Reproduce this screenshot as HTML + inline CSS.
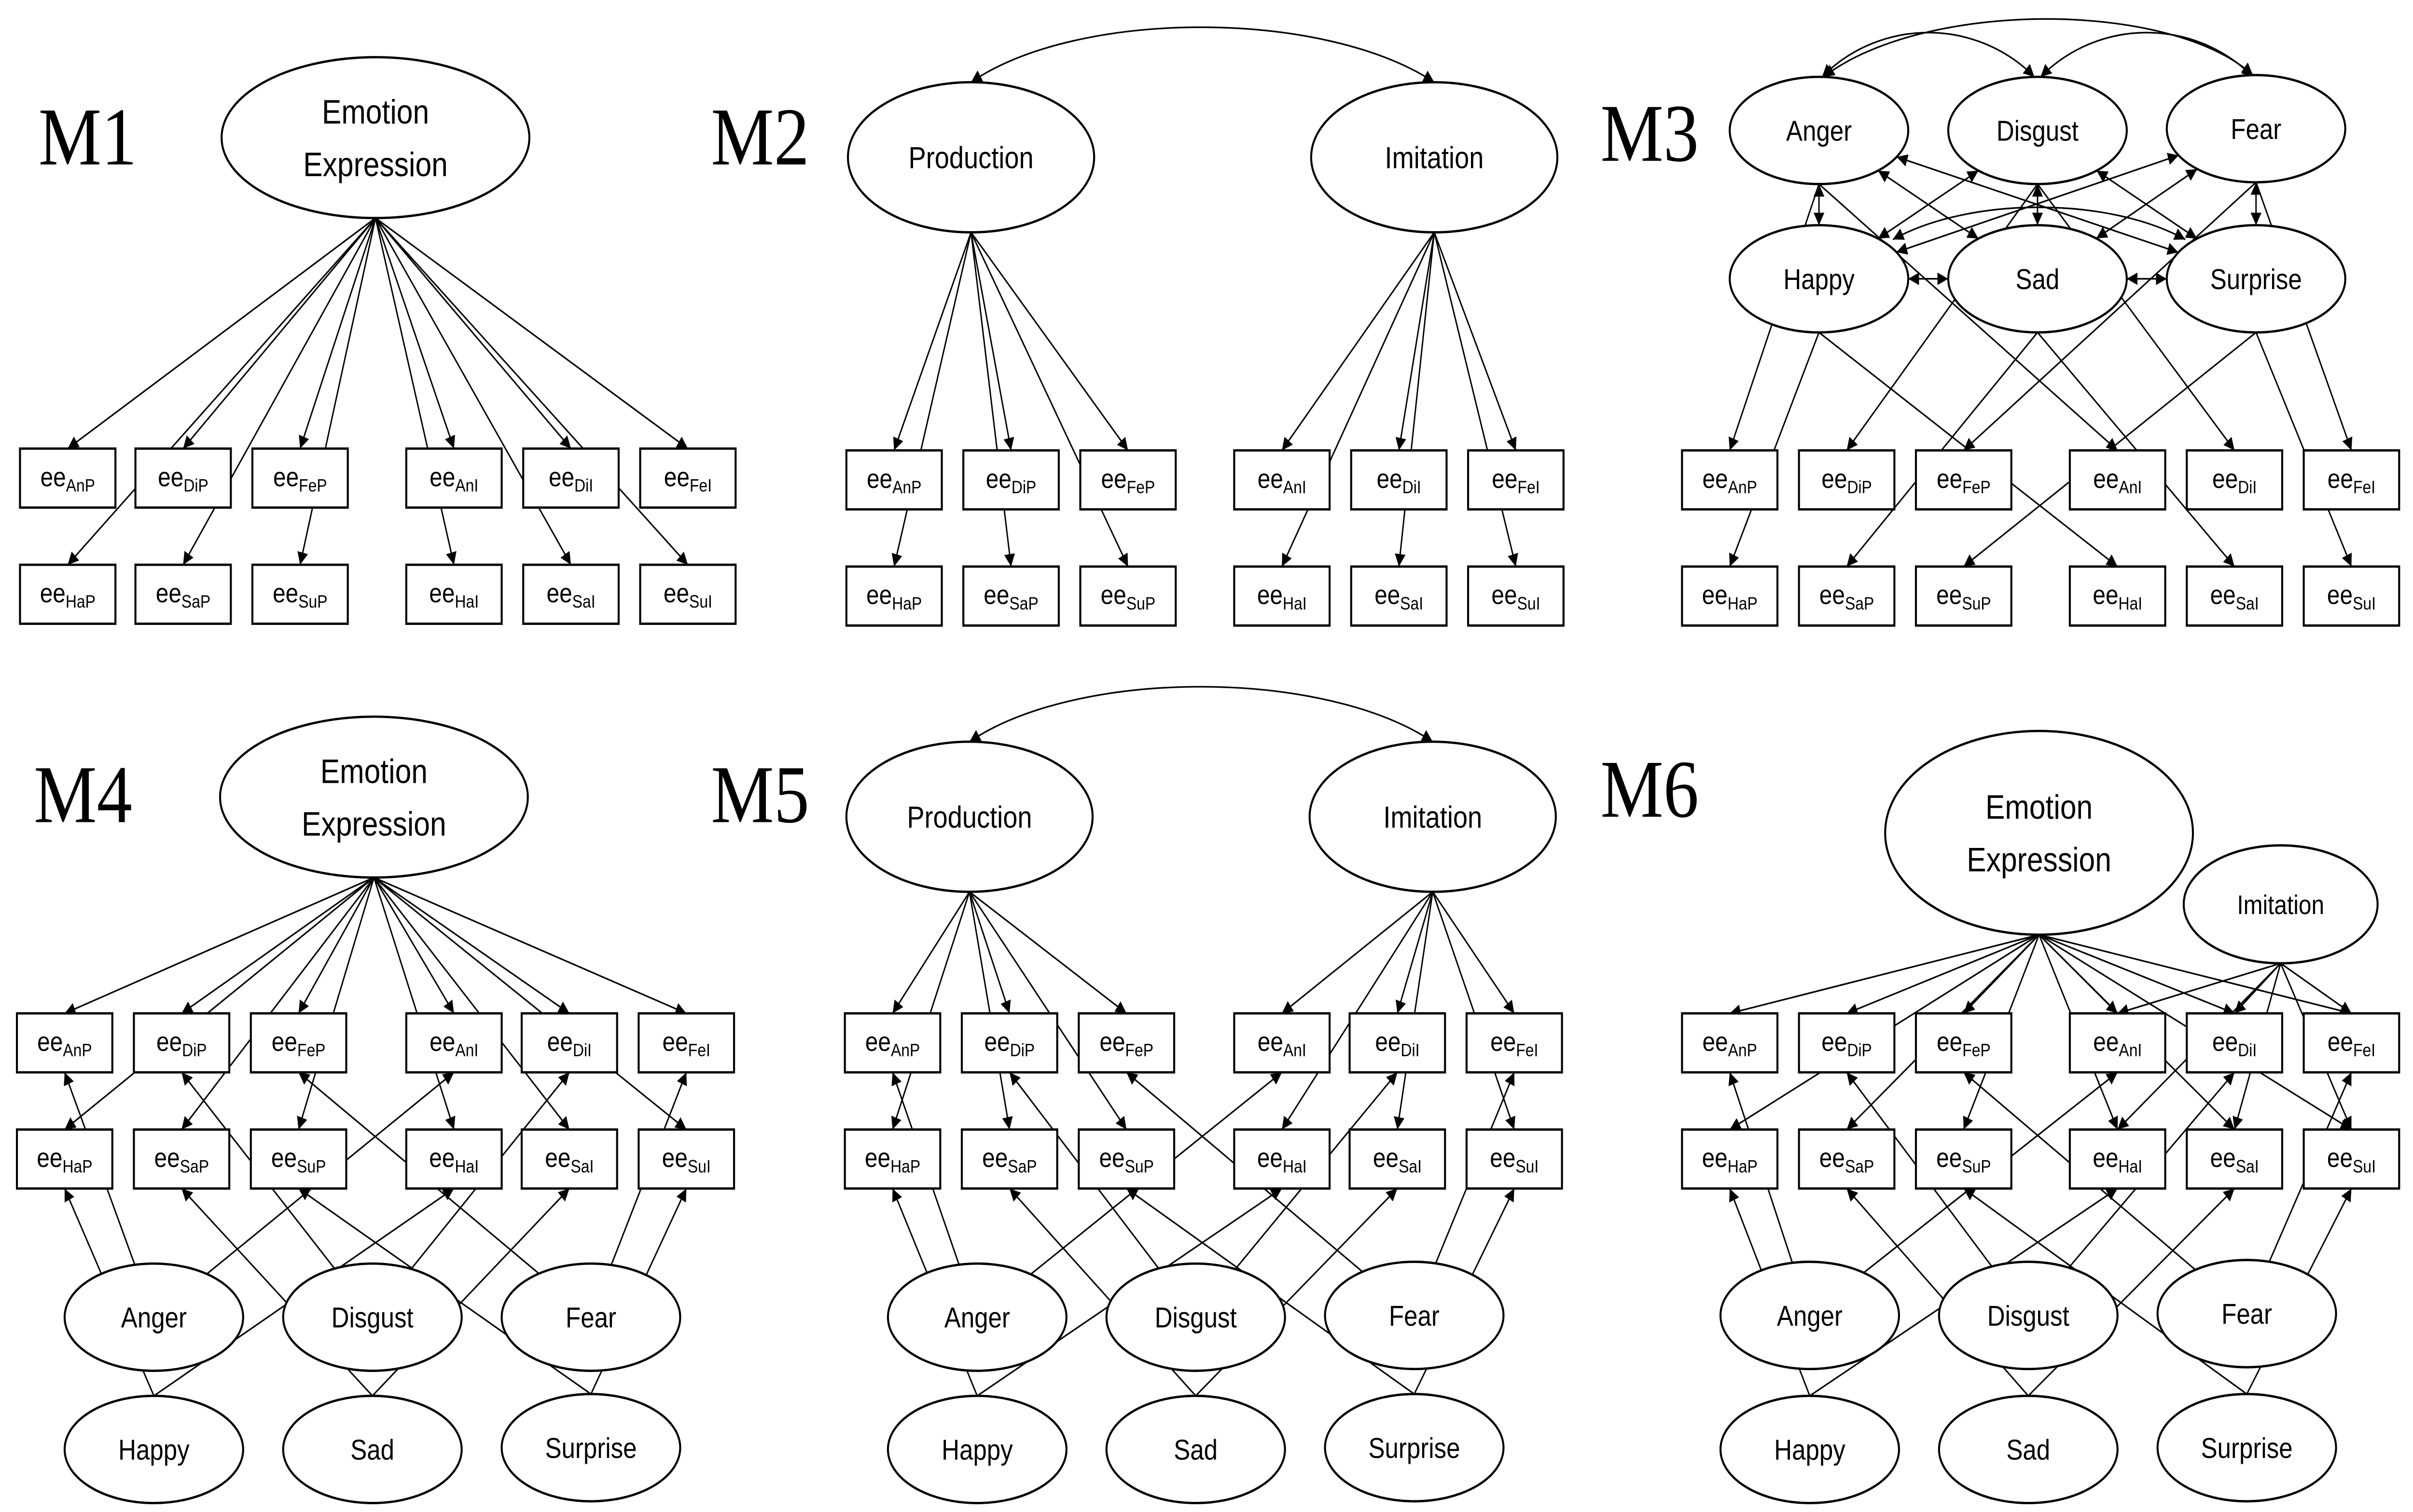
<!DOCTYPE html>
<html><head><meta charset="utf-8"><style>
html,body{margin:0;padding:0;background:#fff;overflow:hidden;width:100%;height:100%;}
svg{display:block;position:absolute;left:0;top:0;width:100vw;height:100vh;}
</style></head><body>
<svg id="s" viewBox="0 0 1568 846" preserveAspectRatio="none" xmlns="http://www.w3.org/2000/svg"></svg>
<script>
const S=document.getElementById('s');
let h='<defs><marker id="a" viewBox="0 0 10 10" refX="10" refY="5" markerWidth="7" markerHeight="7" orient="auto-start-reverse" markerUnits="userSpaceOnUse"><path d="M0,0 L10,5 L0,10 z" fill="#000"/></marker></defs>';
h+='<rect width="1568" height="846" fill="#fff"/>';
const F='font-family="Liberation Sans, sans-serif"';
function edge(e,tx,ty){const dx=tx-e.cx,dy=ty-e.cy;const t=1/Math.sqrt((dx*dx)/(e.rx*e.rx)+(dy*dy)/(e.ry*e.ry));return [e.cx+dx*t,e.cy+dy*t];}
function ln(x1,y1,x2,y2,both){h+=`<line x1="${x1.toFixed(1)}" y1="${y1.toFixed(1)}" x2="${x2.toFixed(1)}" y2="${y2.toFixed(1)}" stroke="#000" stroke-width="0.9" marker-end="url(#a)"${both?' marker-start="url(#a)"':''}/>`;}
function ell(cx,cy,rx,ry,lines,fs){h+=`<ellipse cx="${cx}" cy="${cy}" rx="${rx}" ry="${ry}" fill="#fff" stroke="#000" stroke-width="1.3"/>`;
 const n=lines.length;lines.forEach((t,i)=>{h+=`<text x="${cx}" y="${cy+(i-(n-1)/2)*fs*1.55+fs*0.36}" ${F} font-size="${fs}" text-anchor="middle">${t}</text>`;});return {cx,cy,rx,ry};}
function box(x,y,sub){h+=`<rect x="${x}" y="${y}" width="62" height="33" fill="#fff" stroke="#000" stroke-width="1.3"/><text x="${x+31}" y="${y+21}" ${F} font-size="15" text-anchor="middle">ee<tspan font-size="10" dy="3">${sub}</tspan></text>`;return {cx:x+31,t:y,b:y+33};}
function lab(x,y,t){h+=`<text x="${x}" y="${y}" font-family="Liberation Serif, serif" font-size="46">${t}</text>`;}
const r1=['AnP','DiP','FeP','AnI','DiI','FeI'],r2=['HaP','SaP','SuP','HaI','SaI','SuI'];
function boxes(xs,y1,y2){return {r1:xs.map((x,i)=>({x,y:y1,s:r1[i]})),r2:xs.map((x,i)=>({x,y:y2,s:r2[i]}))};}
function drawBoxes(B){return {r1:B.r1.map(b=>box(b.x,b.y,b.s)),r2:B.r2.map(b=>box(b.x,b.y,b.s))};}
function from(e,tx,ty){const p=edge(e,tx,ty);ln(p[0],p[1],tx,ty);}
function fromB(e,tx,ty){ln(e.cx,e.cy+e.ry,tx,ty);}
const xs1=[13,88,164,264,340,416],xs2=[550,626,702,802,878,954],xs3=[1093,1169,1245,1345,1421,1497];
const xs4=[11,87,163,264,339,415],xs5=[549,625,701,802,877,953];

// M1
lab(25,92,'M1');
{const b=boxes(xs1,251,316);const E={cx:244,cy:77,rx:100,ry:45};
 b.r1.forEach(q=>fromB(E,q.x+31,q.y));b.r2.forEach(q=>fromB(E,q.x+31,q.y));
 drawBoxes(b);ell(244,77,100,45,['Emotion','Expression'],19);}
// M2
lab(462,92,'M2');
{const b=boxes(xs2,252,317);const P={cx:631,cy:88,rx:80,ry:42},I={cx:932,cy:88,rx:80,ry:42};
 for(let i=0;i<3;i++){fromB(P,b.r1[i].x+31,252);fromB(P,b.r2[i].x+31,317);}
 for(let i=3;i<6;i++){fromB(I,b.r1[i].x+31,252);fromB(I,b.r2[i].x+31,317);}
 h+=`<path d="M631,46 C700,5 860,5 932,46" fill="none" stroke="#000" stroke-width="0.9" marker-end="url(#a)" marker-start="url(#a)"/>`;
 drawBoxes(b);ell(631,88,80,42,['Production'],17);ell(932,88,80,42,['Imitation'],17);}
// M3
lab(1040,90,'M3');
{const b=boxes(xs3,252,317);
 const E=[{cx:1182,cy:73},{cx:1324,cy:73},{cx:1466,cy:72},{cx:1182,cy:156},{cx:1324,cy:156},{cx:1466,cy:156}].map(e=>({...e,rx:58,ry:30}));
 const map=[[b.r1[0],b.r1[3]],[b.r1[1],b.r1[4]],[b.r1[2],b.r1[5]],[b.r2[0],b.r2[3]],[b.r2[1],b.r2[4]],[b.r2[2],b.r2[5]]];
 map.forEach((m,k)=>m.forEach(q=>fromB(E[k],q.x+31,q.y)));
 for(let i=0;i<6;i++)for(let j=i+1;j<6;j++){
  const a=E[i],c=E[j];
  if((i==0&&j==2)){h+=`<path d="M1185,43 C1250,0 1410,0 1464,42" fill="none" stroke="#000" stroke-width="0.9" marker-end="url(#a)" marker-start="url(#a)"/>`;continue;}
  if((i==0&&j==1)||(i==1&&j==2)){h+=`<path d="M${a.cx+2},43 C${a.cx+40},10 ${c.cx-40},10 ${c.cx-2},43" fill="none" stroke="#000" stroke-width="0.9" marker-end="url(#a)" marker-start="url(#a)"/>`;continue;}
  if(i==3&&j==5){h+=`<path d="M1230,134 C1280,110 1370,110 1420,134" fill="none" stroke="#000" stroke-width="0.9" marker-end="url(#a)" marker-start="url(#a)"/>`;continue;}
  const p=edge(a,c.cx,c.cy),q=edge(c,a.cx,a.cy);ln(p[0],p[1],q[0],q[1],true);}
 drawBoxes(b);
 ['Anger','Disgust','Fear','Happy','Sad','Surprise'].forEach((t,k)=>ell(E[k].cx,E[k].cy,58,30,[t],16));}
function bottom(E,b){
 const map=[[b.r1[0],b.r1[3]],[b.r1[1],b.r1[4]],[b.r1[2],b.r1[5]],[b.r2[0],b.r2[3]],[b.r2[1],b.r2[4]],[b.r2[2],b.r2[5]]];
 map.forEach((m,k)=>m.forEach(q=>{
  const tx=q.x+31,ty=q.y+33;
  if(k<3){from(E[k],tx,ty);}else{
   const e=E[k];ln(e.cx,e.cy-e.ry,tx,ty);}
 }));
}
// M4
lab(22,460,'M4');
{const b=boxes(xs4,567,632);const EE={cx:243,cy:446,rx:100,ry:45};
 b.r1.forEach(q=>fromB(EE,q.x+31,q.y));b.r2.forEach(q=>fromB(EE,q.x+31,q.y));
 const E=[{cx:100,cy:737},{cx:242,cy:737},{cx:384,cy:737},{cx:100,cy:811},{cx:242,cy:811},{cx:384,cy:810}].map(e=>({...e,rx:58,ry:30}));
 bottom(E,b);drawBoxes(b);ell(243,446,100,45,['Emotion','Expression'],19);
 ['Anger','Disgust','Fear','Happy','Sad','Surprise'].forEach((t,k)=>ell(E[k].cx,E[k].cy,58,30,[t],16));}
// M5
lab(462,460,'M5');
{const b=boxes(xs5,567,632);const P={cx:630,cy:457,rx:80,ry:42},I={cx:931,cy:457,rx:80,ry:42};
 for(let i=0;i<3;i++){fromB(P,b.r1[i].x+31,567);fromB(P,b.r2[i].x+31,632);}
 for(let i=3;i<6;i++){fromB(I,b.r1[i].x+31,567);fromB(I,b.r2[i].x+31,632);}
 h+=`<path d="M630,415 C700,374 860,374 931,415" fill="none" stroke="#000" stroke-width="0.9" marker-end="url(#a)" marker-start="url(#a)"/>`;
 const E=[{cx:635,cy:737},{cx:777,cy:737},{cx:919,cy:736},{cx:635,cy:811},{cx:777,cy:811},{cx:919,cy:810}].map(e=>({...e,rx:58,ry:30}));
 bottom(E,b);drawBoxes(b);ell(630,457,80,42,['Production'],17);ell(931,457,80,42,['Imitation'],17);
 ['Anger','Disgust','Fear','Happy','Sad','Surprise'].forEach((t,k)=>ell(E[k].cx,E[k].cy,58,30,[t],16));}
// M6
lab(1040,457,'M6');
{const b=boxes(xs3,567,632);const EE={cx:1325,cy:466,rx:100,ry:57},IM={cx:1482,cy:506,rx:63,ry:33};
 b.r1.forEach(q=>fromB(EE,q.x+31,q.y));b.r2.forEach(q=>fromB(EE,q.x+31,q.y));
 [3,4,5].forEach(i=>{fromB(IM,b.r1[i].x+31,567);fromB(IM,b.r2[i].x+31,632);});
 const E=[{cx:1176,cy:736},{cx:1318,cy:736},{cx:1460,cy:735},{cx:1176,cy:811},{cx:1318,cy:811},{cx:1460,cy:810}].map(e=>({...e,rx:58,ry:30}));
 bottom(E,b);drawBoxes(b);ell(1325,466,100,57,['Emotion','Expression'],19);ell(1482,506,63,33,['Imitation'],15);
 ['Anger','Disgust','Fear','Happy','Sad','Surprise'].forEach((t,k)=>ell(E[k].cx,E[k].cy,58,30,[t],16));}
S.innerHTML+=h;
</script>
</body></html>
